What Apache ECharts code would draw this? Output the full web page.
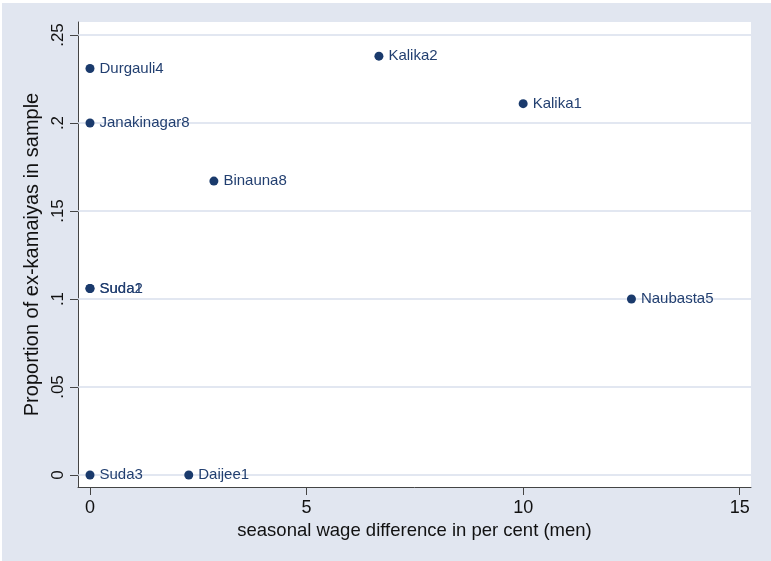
<!DOCTYPE html>
<html>
<head>
<meta charset="utf-8">
<script src="https://cdn.jsdelivr.net/npm/echarts@6/dist/echarts.min.js"></script>
<style>
html,body{margin:0;padding:0;background:#ffffff;}
#bg{position:absolute;left:2px;top:3px;width:769px;height:558px;background:#e1e6f0;}
#chart{position:absolute;left:0;top:0;width:771px;height:561px;}
</style>
</head>
<body>
<div id="bg"></div>
<div id="chart"></div>
<script>
// Data
var villages = ['Durgauli4','Janakinagar8','Binauna8','Kalika2','Kalika1','Naubasta5','Suda1','Suda2','Suda3','Daijee1'];
var wageDiff = [0, 0, 2.86, 6.67, 10, 12.5, 0, 0, 0, 2.28];
var propExKamaiya = [0.231, 0.2, 0.167, 0.238, 0.211, 0.1, 0.106, 0.106, 0, 0];
var xTicks = [0, 5, 10, 15];
var xTickLabels = ['0', '5', '10', '15'];
var yTicks = [0, 0.05, 0.1, 0.15, 0.2, 0.25];
var yTickLabels = ['0', '.05', '.1', '.15', '.2', '.25'];

function lookup(ticks, labels, v) {
  for (var i = 0; i < ticks.length; i++) {
    if (Math.abs(ticks[i] - v) < 1e-9) return labels[i];
  }
  return '';
}

var points = villages.map(function (n, i) { return { name: n, value: [wageDiff[i], propExKamaiya[i]] }; });

var navy = '#1a3a6c';
var chart = echarts.init(document.getElementById('chart'), null, { renderer: 'canvas' });
chart.setOption({
  backgroundColor: 'transparent',
  animation: false,
  grid: {
    left: 78, right: 20, top: 22, bottom: 74,
    show: true, backgroundColor: '#ffffff', borderWidth: 0
  },
  xAxis: {
    type: 'value',
    min: -0.277, max: 15.26,
    name: 'seasonal wage difference in per cent (men)',
    nameLocation: 'middle',
    nameGap: 33,
    nameTextStyle: { fontFamily: 'Liberation Sans, Arial', fontSize: 18.5, color: '#111' },
    axisLine: { show: true, onZero: false, lineStyle: { color: '#444', width: 1 } },
    axisTick: { show: true, length: 8, customValues: xTicks, lineStyle: { color: '#444' } },
    axisLabel: {
      customValues: xTicks, margin: 12,
      fontFamily: 'Liberation Sans, Arial', fontSize: 18, color: '#111',
      formatter: function (v) { return lookup(xTicks, xTickLabels, v); }
    },
    splitLine: { show: false }
  },
  yAxis: {
    type: 'value',
    min: -0.0068, max: 0.2574,
    name: 'Proportion of ex-kamaiyas in sample',
    nameLocation: 'middle',
    nameRotate: 90,
    nameGap: 35,
    nameTextStyle: { fontFamily: 'Liberation Sans, Arial', fontSize: 20, color: '#111' },
    axisLine: { show: true, onZero: false, lineStyle: { color: '#444', width: 1 } },
    axisTick: { show: true, length: 8, customValues: yTicks, lineStyle: { color: '#444' } },
    axisLabel: {
      customValues: yTicks, rotate: 90, margin: 11,
      fontFamily: 'Liberation Sans, Arial', fontSize: 17, color: '#111',
      formatter: function (v) { return lookup(yTicks, yTickLabels, v); }
    },
    splitLine: { show: false }
  },
  series: [
    {
      type: 'scatter',
      data: [],
      z: 1,
      silent: true,
      markLine: {
        z: 1,
        silent: true,
        symbol: ['none', 'none'],
        label: { show: false },
        lineStyle: { color: '#d8dfec', width: 1.6, type: 'solid' },
        data: yTicks.map(function (t) { return { yAxis: t }; })
      }
    },
    {
      type: 'scatter',
      z: 6,
      symbol: 'circle',
      symbolSize: 9,
      itemStyle: { color: navy, opacity: 1 },
      label: {
        show: true, position: 'right', distance: 5,
        formatter: function (p) { return p.name; },
        fontFamily: 'Liberation Sans, Arial', fontSize: 15, color: '#223f70'
      },
      data: points
    }
  ]
});
</script>
</body>
</html>
